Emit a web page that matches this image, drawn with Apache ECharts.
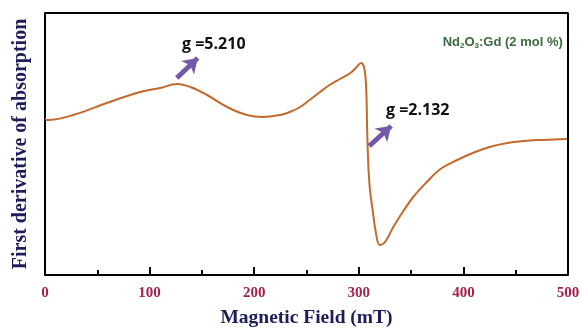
<!DOCTYPE html>
<html>
<head>
<meta charset="utf-8">
<script src="https://cdn.jsdelivr.net/npm/echarts@6/dist/echarts.min.js"></script>
<style>html,body{margin:0;padding:0;background:#fff;}#c{width:582px;height:329px;}</style>
</head>
<body>
<div id="c"></div>
<script>
// Magnetic field (mT)
const field = [0,2,27,59,91,110,126,139,155,174,193,208,225,234,244,253,263,272,282,292,298,302,305,307,308,309.3,310.7,313.6,316.4,320,325,333,342,352,365,378,394,409,425,442,458,473,487,499];
// First derivative signal (arbitrary units)
const signal = [156,155,160,172,183,187,191,188,180,168,160,158,160,163,168,175,183,190,196,202,208,212,208,188,145,105,85,62,42,30,33,48,63,78,93,106,115,122,128,132,134,135,135.5,136];
const xTicks = [0,100,200,300,400,500];
const yRange = [0,262];
// annotations: [field, signal]
const arrow1 = [[126,197],[146,217]];
const arrow2 = [[310,129],[331,149]];
const label1 = {text:'g =5.210', at:[131,231]};
const label2 = {text:'g =2.132', at:[326,165]};
const sampleLabel = {at:[495,233]};

const xMin = xTicks[0], xMax = xTicks[xTicks.length-1];
const chart = echarts.init(document.getElementById('c'), null, {renderer:'canvas'});
const arrowColor = '#7459a8';
chart.setOption({
  animation:false,
  backgroundColor:'#fff',
  grid:{left:45,right:14,top:13,bottom:54,containLabel:false,outerBoundsMode:'none'},
  xAxis:{
    type:'value',min:xMin,max:xMax,interval:100,
    name:'Magnetic Field (mT)',nameLocation:'middle',nameGap:33,
    nameTextStyle:{fontFamily:'Liberation Serif',fontWeight:'bold',fontSize:19.5,color:'#1d1d5c'},
    axisLine:{onZero:false,lineStyle:{color:'#000',width:2}},
    axisTick:{inside:true,length:8,lineStyle:{color:'#000',width:2}},
    minorTick:{show:true,splitNumber:2,length:5,lineStyle:{color:'#000',width:2}},
    splitLine:{show:false},minorSplitLine:{show:false},
    axisLabel:{margin:11,fontFamily:'Liberation Serif',fontWeight:'bold',fontSize:15,color:'#a3224e'}
  },
  yAxis:{
    type:'value',min:yRange[0],max:yRange[1],
    name:'First derivative of absorption',nameLocation:'middle',nameGap:14,
    nameTextStyle:{fontFamily:'Liberation Serif',fontWeight:'bold',fontSize:20,color:'#1d1d5c'},
    axisLine:{show:true,onZero:false,lineStyle:{color:'#000',width:2}},
    axisTick:{show:false},axisLabel:{show:false},splitLine:{show:false}
  },
  series:[{
    // plot frame: top and right edges drawn through the axes' scales
    type:'line',
    data:[[xMin,yRange[1]],[xMax,yRange[1]],[xMax,yRange[0]]],
    showSymbol:false,
    clip:false,
    silent:true,
    lineStyle:{color:'#000',width:2}
  },{
    type:'line',
    data:field.map((f,i)=>[f,signal[i]]),
    showSymbol:false,
    smooth:0.4,
    lineStyle:{color:'#c4692c',width:2},
    markLine:{
      silent:true,animation:false,
      symbolSize:[14,14],
      label:{show:false},
      lineStyle:{color:arrowColor,width:5,type:'solid'},
      data:[
        [{coord:arrow1[0],symbol:'none'},{coord:arrow1[1],symbol:'arrow'}],
        [{coord:arrow2[0],symbol:'none'},{coord:arrow2[1],symbol:'arrow'}]
      ]
    },
    markPoint:{
      silent:true,animation:false,symbol:'circle',symbolSize:0,
      data:[
        {coord:label1.at,label:{show:true,position:'right',distance:0,formatter:label1.text,fontFamily:'Open Sans',fontWeight:'bold',fontSize:16,color:'#111'}},
        {coord:label2.at,label:{show:true,position:'right',distance:0,formatter:label2.text,fontFamily:'Open Sans',fontWeight:'bold',fontSize:16,color:'#111'}},
        {coord:sampleLabel.at,label:{show:true,position:'left',distance:0,
          formatter:'{a|Nd}{s|2}{a|O}{s|3}{a|:Gd (2 mol %)}',
          rich:{
            a:{fontFamily:'Liberation Sans',fontWeight:'bold',fontSize:13,color:'#3b6a3d'},
            s:{fontFamily:'Liberation Sans',fontWeight:'bold',fontSize:8,color:'#3b6a3d',verticalAlign:'bottom',padding:[7,0,0,0]}
          }}}
      ]
    }
  }]
});
</script>
</body>
</html>
